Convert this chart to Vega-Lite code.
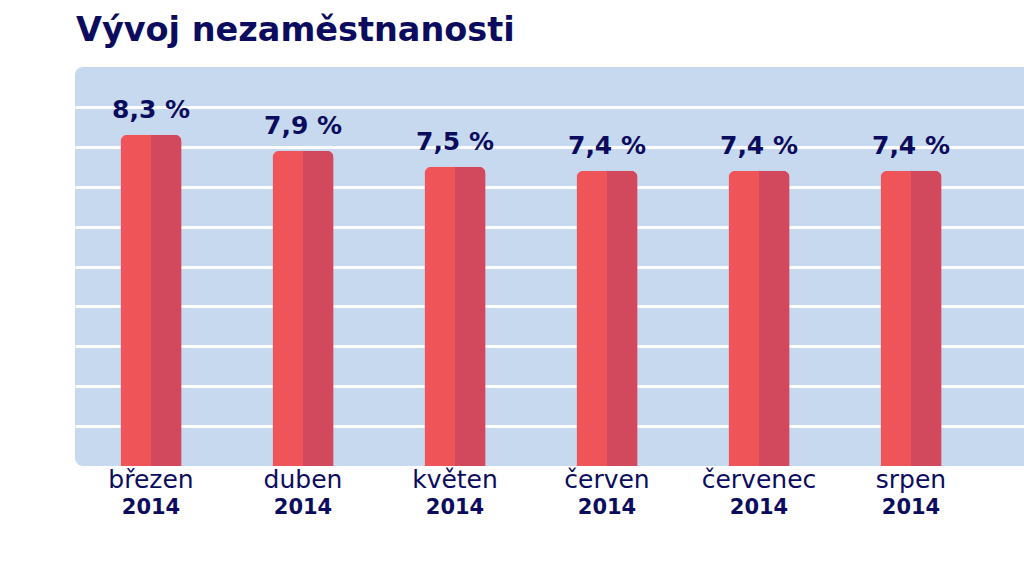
{
  "$schema": "https://vega.github.io/schema/vega-lite/v6.json",
  "autosize": "none",
  "width": 961,
  "height": 399,
  "padding": {"left": 75, "top": 67, "right": -12, "bottom": 109},
  "background": "#ffffff",
  "title": {
    "text": "Vývoj nezaměstnanosti",
    "anchor": "start",
    "frame": "group",
    "font": "DejaVu Sans",
    "fontSize": 33.5,
    "fontWeight": "bold",
    "color": "#0c0c5e",
    "offset": 19,
    "dx": 1
  },
  "config": {
    "view": {"fill": "#c7d9ef", "stroke": null, "cornerRadius": 8},
    "font": "DejaVu Sans"
  },
  "data": {
    "values": [
      {"order": 1, "month": "březen", "year": "2014", "value": 8.3},
      {"order": 2, "month": "duben", "year": "2014", "value": 7.9},
      {"order": 3, "month": "květen", "year": "2014", "value": 7.5},
      {"order": 4, "month": "červen", "year": "2014", "value": 7.4},
      {"order": 5, "month": "červenec", "year": "2014", "value": 7.4},
      {"order": 6, "month": "srpen", "year": "2014", "value": 7.4}
    ]
  },
  "transform": [
    {"calculate": "replace(format(datum.value, '.1f'), '.', ',') + ' %'", "as": "label"}
  ],
  "encoding": {
    "x": {
      "field": "order",
      "type": "quantitative",
      "scale": {"domain": [0.5, 6.8224], "nice": false, "zero": false, "padding": 0},
      "axis": null
    }
  },
  "layer": [
    {
      "mark": {"type": "bar", "color": "#ef5459", "width": 61, "cornerRadiusTopLeft": 7, "cornerRadiusTopRight": 7},
      "encoding": {
        "y": {
          "field": "value",
          "type": "quantitative",
          "scale": {"domain": [0, 10], "nice": false},
          "axis": {
            "values": [1, 2, 3, 4, 5, 6, 7, 8, 9],
            "grid": true,
            "gridColor": "#ffffff",
            "gridWidth": 3,
            "gridOpacity": 1,
            "labels": false,
            "ticks": false,
            "domain": false,
            "title": null
          }
        }
      }
    },
    {
      "mark": {"type": "bar", "color": "#d2485d", "width": 30.5, "xOffset": 15.25, "cornerRadiusTopRight": 7},
      "encoding": {
        "y": {"field": "value", "type": "quantitative"}
      }
    },
    {
      "mark": {"type": "text", "font": "DejaVu Sans", "fontSize": 25, "fontWeight": "bold", "color": "#0c0c5e", "baseline": "alphabetic", "dy": -17},
      "encoding": {
        "y": {"field": "value", "type": "quantitative"},
        "text": {"field": "label"}
      }
    },
    {
      "mark": {"type": "text", "font": "DejaVu Sans", "fontSize": 25, "color": "#0c0c5e", "baseline": "alphabetic", "dy": 22},
      "encoding": {
        "y": {"datum": 0, "type": "quantitative"},
        "text": {"field": "month"}
      }
    },
    {
      "mark": {"type": "text", "font": "DejaVu Sans", "fontSize": 21, "fontWeight": "bold", "color": "#0c0c5e", "baseline": "alphabetic", "dy": 48},
      "encoding": {
        "y": {"datum": 0, "type": "quantitative"},
        "text": {"field": "year"}
      }
    }
  ]
}
